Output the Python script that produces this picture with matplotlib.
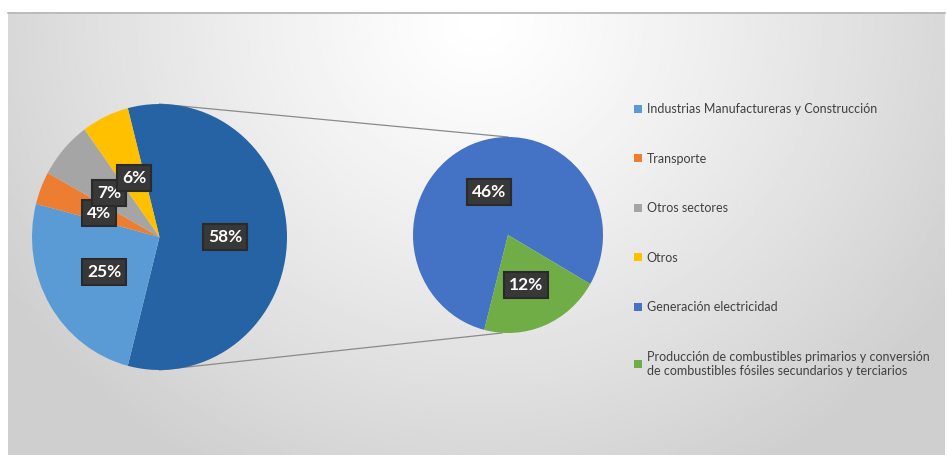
import matplotlib
matplotlib.use("Agg")
import matplotlib.pyplot as plt
from matplotlib.patches import Patch
import numpy as np

plt.rcParams['font.family'] = ['Lato', 'DejaVu Sans']

# primary pie: sectors + the split-out energy share
main_labels = ['Generación + Producción', 'Industrias Manufactureras y Construcción',
               'Transporte', 'Otros sectores', 'Otros']
main_values = [58, 25, 4, 7, 6]
main_colors = ['#2563A4', '#5B9BD5', '#ED7D31', '#A5A5A5', '#FFC000']

# secondary pie: breakdown of the 58 %
sub_labels = ['Generación electricidad',
              'Producción de combustibles primarios y conversión\n'
              'de combustibles fósiles secundarios y terciarios']
sub_values = [46, 12]
sub_colors = ['#4472C4', '#70AD47']

legend_labels = ['Industrias Manufactureras y Construcción', 'Transporte',
                 'Otros sectores', 'Otros', 'Generación electricidad', sub_labels[1]]
legend_colors = ['#5B9BD5', '#ED7D31', '#A5A5A5', '#FFC000', '#4472C4', '#70AD47']

W, H = 947, 455
fig = plt.figure(figsize=(W / 100, H / 100), dpi=100)

# full-figure overlay in pixel units (y measured from top)
bg = fig.add_axes([0, 0, 1, 1])
bg.set_xlim(0, W)
bg.set_ylim(H, 0)
bg.axis('off')

# grey panel with a soft light spot near the top
px0, px1, py0, py1 = 8, 945, 12, H
xx, yy = np.meshgrid(np.linspace(px0, px1, 400), np.linspace(py0, py1, 200))
d = np.sqrt(((xx - 480) / 560) ** 2 + ((yy - 20) / 520) ** 2)
shade = 1.0 - 0.19 * np.clip(d, 0, 1) ** 1.2
bg.imshow(shade, cmap='gray', vmin=0, vmax=1, extent=(px0, px1, py1, py0),
          aspect='auto', zorder=0, interpolation='bilinear')
bg.plot([px0, px1], [py0 + 0.5, py0 + 0.5], color='#b5b5b5', lw=1.2, zorder=1)


def pie_axes(x0, y0, x1, y1):
    a = fig.add_axes([x0 / W, 1 - y1 / H, (x1 - x0) / W, (y1 - y0) / H])
    return a


# pie boxes (pixels)
L = (32, 104, 287, 370)
R = (413, 137, 603, 333)

# connector lines from the main pie to the secondary pie
lcx = (L[0] + L[2]) / 2
rcx = (R[0] + R[2]) / 2
bg.plot([lcx, rcx], [L[1], R[1]], color='#8a8a8a', lw=0.9, zorder=2)
bg.plot([lcx, rcx - 6], [L[3], R[3]], color='#8a8a8a', lw=0.9, zorder=2)

axL = pie_axes(*L)
axL.pie(main_values, colors=main_colors, startangle=180 * main_values[0] / 100,
        counterclock=False, radius=1, wedgeprops=dict(linewidth=0))
axL.set_aspect('auto')
axL.set_xlim(-1, 1)
axL.set_ylim(-1, 1)
axL.axis('off')

axR = pie_axes(*R)
axR.pie(sub_values, colors=sub_colors, startangle=-30 + 360 * sub_values[0] / sum(sub_values),
        counterclock=False, radius=1, wedgeprops=dict(linewidth=0))
axR.set_aspect('auto')
axR.set_xlim(-1, 1)
axR.set_ylim(-1, 1)
axR.axis('off')

# data labels: dark boxes with white bold text
top = fig.add_axes([0, 0, 1, 1])
top.set_xlim(0, W)
top.set_ylim(H, 0)
top.axis('off')
top.patch.set_alpha(0)

label_pos = [(225, 237), (104, 272), (99, 213), (109, 193), (134, 178)]


def tag(x, y, s, z):
    top.text(x, y, s, ha='center', va='center', color='white', fontsize=12.5,
             fontweight='bold', zorder=z,
             bbox=dict(boxstyle='square,pad=0.3', fc='#383838', ec='#2a2a2a', lw=1.5))


# drawn in series order: 25, 4, 7, 6, then 58
for z, i in enumerate([1, 2, 3, 4, 0]):
    x, y = label_pos[i]
    tag(x, y, f'{main_values[i]}%', 5 + z)

sub_pos = [(489, 192), (526, 285)]
for v, (x, y) in zip(sub_values, sub_pos):
    tag(x, y, f'{v}%', 5)

handles = [Patch(facecolor=c, edgecolor='none') for c in legend_colors]
leg = fig.legend(handles, legend_labels, loc='upper left',
                 bbox_to_anchor=(623 / W, 1 - 92 / H), frameon=False,
                 fontsize=9, handlelength=0.6, handleheight=0.6,
                 handletextpad=0.4, labelspacing=3.0, labelcolor='#404040')

fig.savefig('out.png', dpi=100)
